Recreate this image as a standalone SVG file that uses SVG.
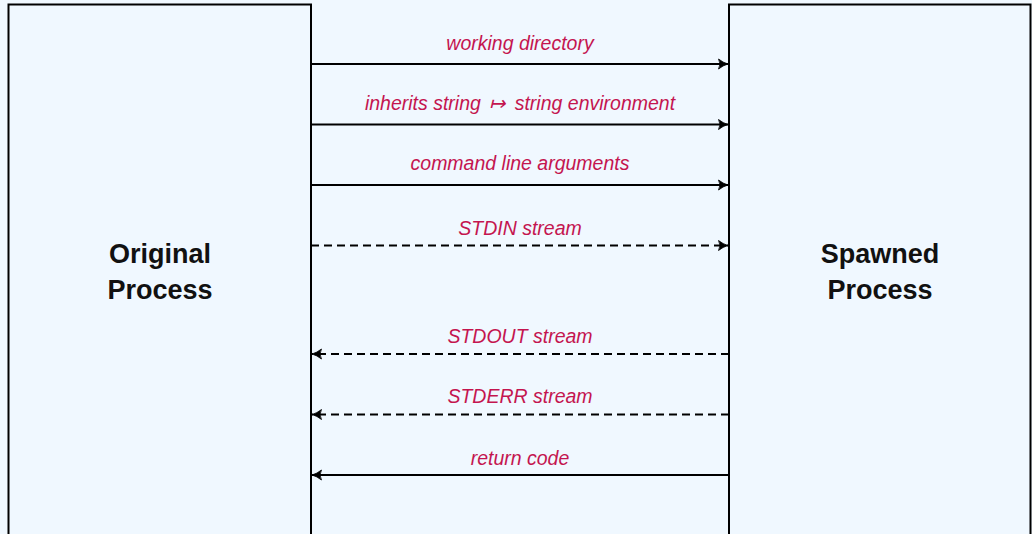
<svg xmlns="http://www.w3.org/2000/svg" width="1032" height="534" viewBox="0 0 1032 534">
<style>
.box{fill:#f0f8ff;stroke:#000;stroke-width:2}
.title{font-family:"Liberation Sans",Arial,sans-serif;font-weight:bold;font-size:27px;fill:#111;text-anchor:middle}
.lbl{font-family:"Liberation Sans",Arial,sans-serif;font-style:italic;font-size:19.5px;fill:#c4154f;text-anchor:middle}
.ar{stroke:#000;stroke-width:2.2;fill:none}
.dash{stroke-dasharray:8 5}
</style>
<defs>
<marker id="ah" viewBox="0 0 12 12" refX="11" refY="6" markerWidth="12" markerHeight="12" markerUnits="userSpaceOnUse" orient="auto">
<path d="M1.5,1 Q6,4.6 11,6 Q6,7.4 1.5,11 Q4.5,6 1.5,1 Z" fill="#000" stroke="#000" stroke-width="0.8" stroke-linejoin="round"/>
</marker>
</defs>
<rect x="0" y="0" width="1032" height="534" fill="#f0f8ff"/>
<g id="original">
<rect class="box" x="8.5" y="4.5" width="302.5" height="540"/>
<text class="title" x="160" y="263">Original</text>
<text class="title" x="160" y="299">Process</text>
</g>
<g id="spawned">
<rect class="box" x="729" y="4.5" width="301.5" height="540"/>
<text class="title" x="880" y="263">Spawned</text>
<text class="title" x="880" y="299">Process</text>
</g>
<g id="connectors">
<line class="ar" x1="311" y1="64" x2="728" y2="64" marker-end="url(#ah)"/>
<text class="lbl" x="520" y="50">working directory</text>
<line class="ar" x1="311" y1="124.5" x2="728" y2="124.5" marker-end="url(#ah)"/>
<text class="lbl" x="520" y="110">inherits string <tspan dx="3">↦</tspan> <tspan dx="4">string environment</tspan></text>
<line class="ar" x1="311" y1="185" x2="728" y2="185" marker-end="url(#ah)"/>
<text class="lbl" x="520" y="170">command line arguments</text>
<line class="ar dash" x1="311" y1="245.5" x2="728" y2="245.5" marker-end="url(#ah)"/>
<text class="lbl" x="520" y="235">STDIN stream</text>
<line class="ar dash" x1="729" y1="354" x2="312" y2="354" marker-end="url(#ah)"/>
<text class="lbl" x="520" y="343">STDOUT stream</text>
<line class="ar dash" x1="729" y1="414.5" x2="312" y2="414.5" marker-end="url(#ah)"/>
<text class="lbl" x="520" y="403">STDERR stream</text>
<line class="ar" x1="729" y1="475" x2="312" y2="475" marker-end="url(#ah)"/>
<text class="lbl" x="520" y="465">return code</text>
</g>
</svg>
